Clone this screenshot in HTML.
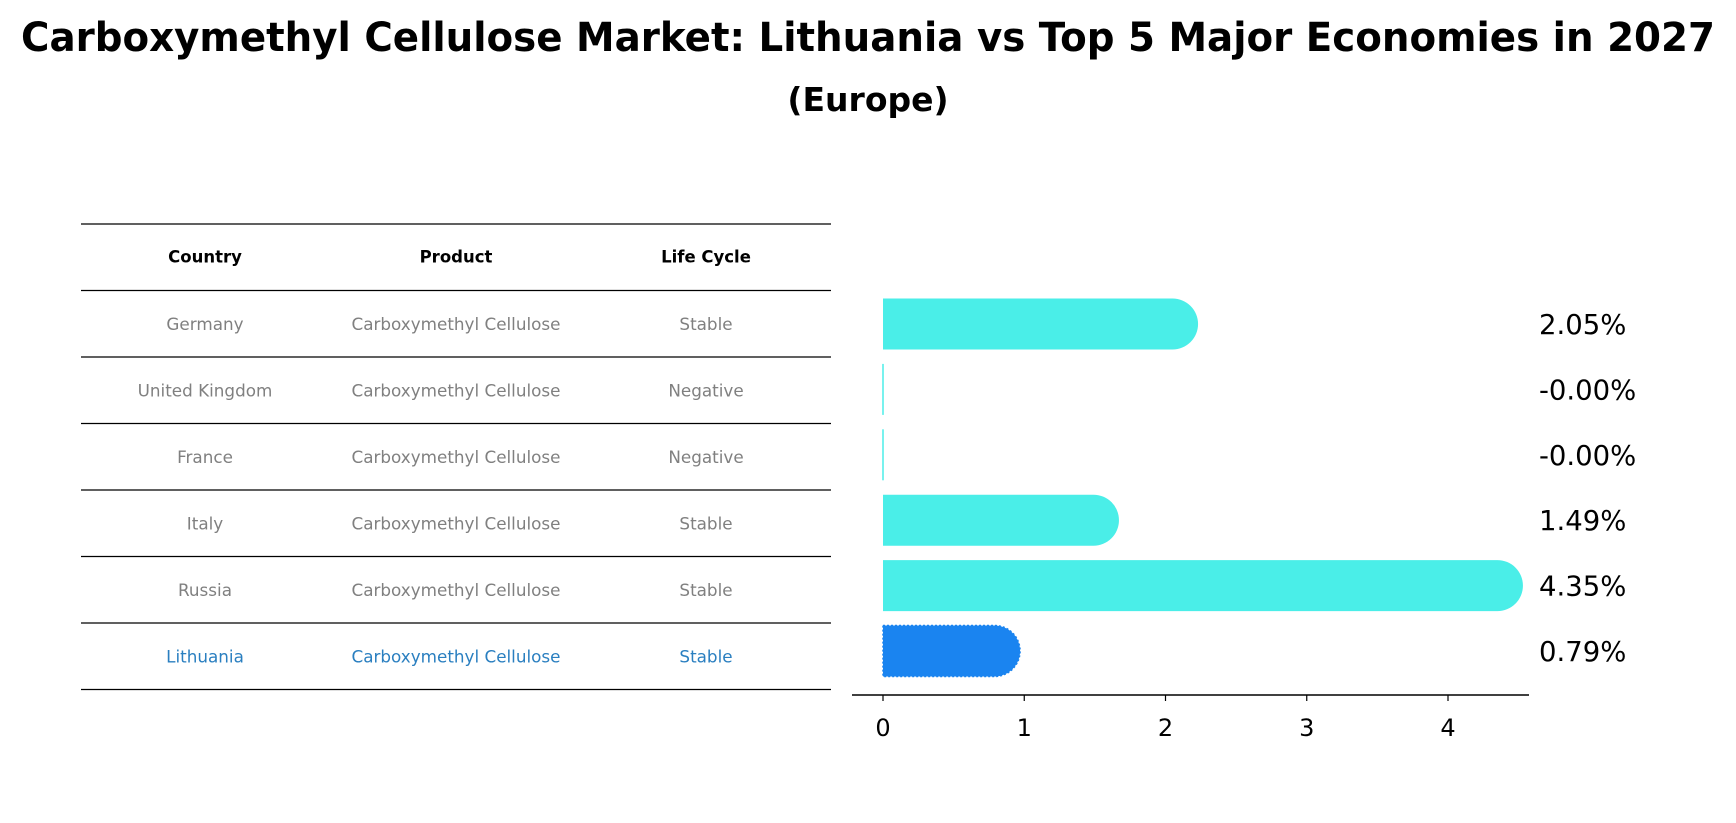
<!DOCTYPE html>
<html><head><meta charset="utf-8">
<style>
html,body{margin:0;padding:0;background:#fff;}
svg{display:block;font-family:"DejaVu Sans","Liberation Sans",sans-serif;}
</style></head>
<body>
<svg id="chart" width="1736" height="823" viewBox="0 0 1736 823" xmlns="http://www.w3.org/2000/svg">
<text x="868" y="51" text-anchor="middle" font-size="40" font-weight="bold" textLength="1694" lengthAdjust="spacingAndGlyphs">Carboxymethyl Cellulose Market: Lithuania vs Top 5 Major Economies in 2027</text>
<text x="868" y="111" text-anchor="middle" font-size="33" font-weight="bold">(Europe)</text>
<g id="table"></g>
<g id="bars"></g>
</svg>
<script>
const countries = ["Germany","United Kingdom","France","Italy","Russia","Lithuania"];
const products = ["Carboxymethyl Cellulose","Carboxymethyl Cellulose","Carboxymethyl Cellulose","Carboxymethyl Cellulose","Carboxymethyl Cellulose","Carboxymethyl Cellulose"];
const lifeCycles = ["Stable","Negative","Negative","Stable","Stable","Stable"];
const growthValues = [2.05,-0.0,-0.0,1.49,4.35,0.79];
const growthLabels = ["2.05%","-0.00%","-0.00%","1.49%","4.35%","0.79%"];
const xTicks = [0,1,2,3,4];

const NS = "http://www.w3.org/2000/svg";
function mk(tag, attrs, parent){const e=document.createElementNS(NS,tag);for(const k in attrs)e.setAttribute(k,attrs[k]);parent.appendChild(e);return e;}

const tbl=document.getElementById('table');
const tx0=81, tx1=831, rowH=66.5, ty0=224;
const colX=[205,456,706];
for(let i=0;i<=7;i++){
  const ln=mk('line',{x1:tx0,x2:tx1,y1:ty0+i*rowH,y2:ty0+i*rowH,stroke:'#000','stroke-width':1.2},tbl);
  
  
}
const heads=["Country","Product","Life Cycle"];
heads.forEach((h,j)=>{
  const t=mk('text',{x:colX[j],y:ty0+rowH/2+5,'text-anchor':'middle','font-size':16.5,'font-weight':'bold',fill:'#000'},tbl);
  t.textContent=h;
  
  
});
countries.forEach((c,i)=>{
  const last=i===countries.length-1;
  const col=last?'#2a7fc0':'#808080';
  const y=ty0+(i+1)*rowH+rowH/2+6;
  [c,products[i],lifeCycles[i]].forEach((v,j)=>{
    const t=mk('text',{x:colX[j],y:y,'text-anchor':'middle','font-size':16.8,fill:col},tbl);
    t.textContent=v;
    
    
  });
});

const g=document.getElementById('bars');
const x0=883, unit=141.25;
function xs(v){return x0+v*unit;}
const barH=51, r=25.5;
const centers=countries.map((_,i)=>324+i*65.4);
growthValues.forEach((v,i)=>{
  const last=i===countries.length-1;
  const fill=last?'#1a84f0':'#4aeee8';
  const cy=centers[i];
  const w=Math.max(0,xs(v)-x0);
  if(w<1){
    const ln=mk('line',{x1:x0,x2:x0,y1:cy-barH/2,y2:cy+barH/2,stroke:fill,'stroke-width':1.5},g);
    
    
  } else {
    const p=mk('path',{d:`M${x0},${cy-barH/2} H${xs(v)} A${r},${barH/2} 0 0 1 ${xs(v)},${cy+barH/2} H${x0} Z`,fill:fill},g);
    if(last){p.setAttribute('stroke','#1a84f0');p.setAttribute('stroke-dasharray','2,2');p.setAttribute('stroke-width','1.5');}
    
    
  }
  const t=mk('text',{x:1539,y:cy+10,'font-size':27.5,fill:'#000'},g);
  t.textContent=growthLabels[i];
  
  
});
const ax=mk('line',{x1:852,x2:1529,y1:695,y2:695,stroke:'#000','stroke-width':1.5},g);


xTicks.forEach(v=>{
  const tk=mk('line',{x1:xs(v),x2:xs(v),y1:695,y2:701,stroke:'#000','stroke-width':1.2},g);
  
  
  const t=mk('text',{x:xs(v),y:736,'text-anchor':'middle','font-size':24,fill:'#000'},g);
  t.textContent=String(v);
  
  
});
</script>
</body></html>
